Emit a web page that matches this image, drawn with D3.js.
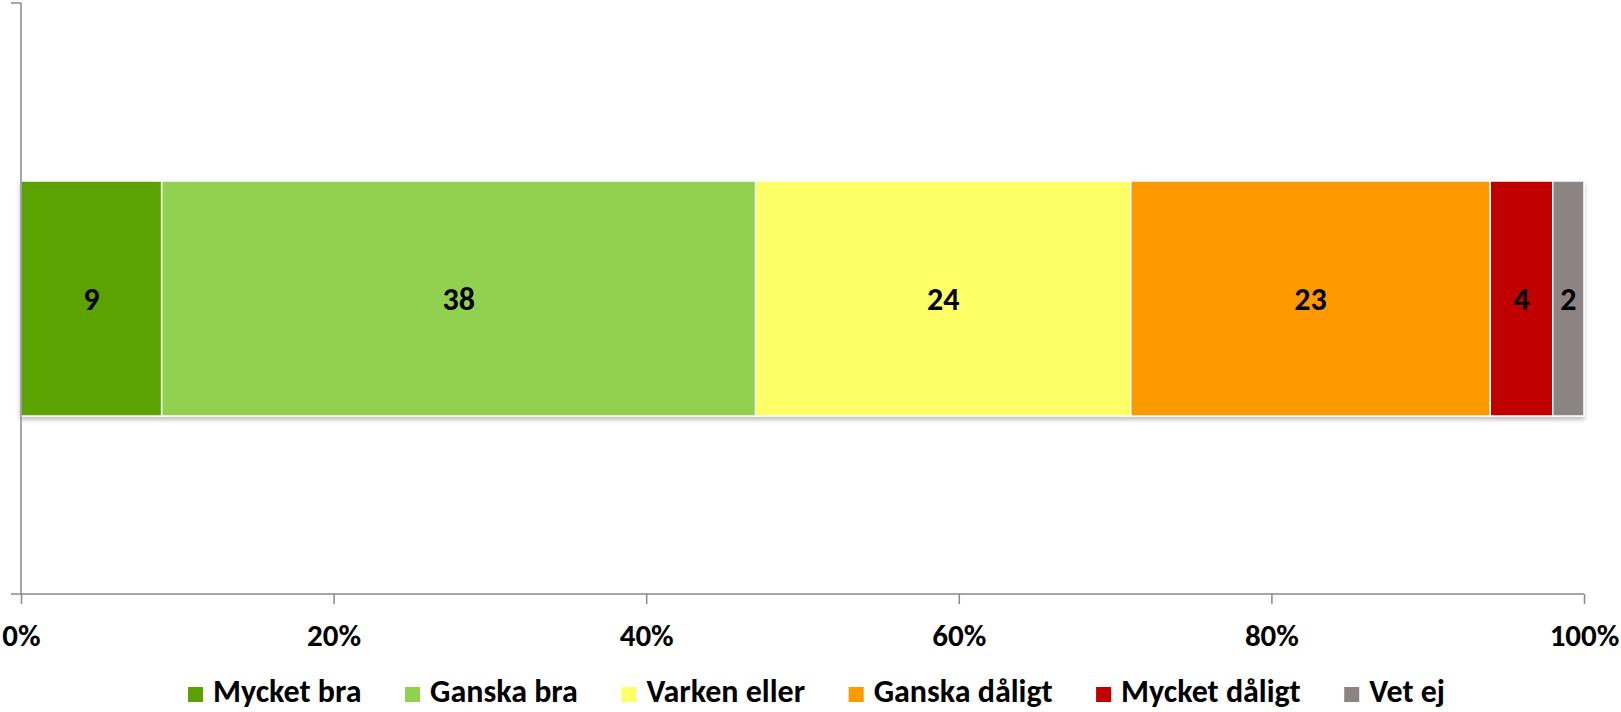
<!DOCTYPE html>
<html>
<head>
<meta charset="utf-8">
<script src="https://cdn.jsdelivr.net/npm/d3@7"></script>
<style>
  body { margin: 0; background: #fff; }
  svg text { font-family: Carlito, Calibri, "Open Sans", sans-serif; font-weight: bold; }
</style>
</head>
<body>
<svg id="chart" width="1621" height="712"></svg>
<script>
// data
const categories = ['Mycket bra', 'Ganska bra', 'Varken eller', 'Ganska dåligt', 'Mycket dåligt', 'Vet ej'];
const values = [9, 38, 24, 23, 4, 2];
const colors = ['#5ba200', '#92d050', '#ffff66', '#ff9900', '#c00000', '#8b8482'];
const tickValues = [0, 20, 40, 60, 80, 100];
const rows = ['row'];

const svg = d3.select('#chart');
const margin = {top: 3, left: 21, right: 37, bottom: 118};
const width = 1621 - margin.left - margin.right;
const height = 712 - margin.top - margin.bottom;
const axisCol = '#898989';

const defs = svg.append('defs');
const shadow = defs.append('filter').attr('id', 'shadow')
  .attr('x', '-5%').attr('y', '-5%').attr('width', '110%').attr('height', '115%');
shadow.append('feDropShadow').attr('dx', 0).attr('dy', 3).attr('stdDeviation', 2)
  .attr('flood-color', '#000').attr('flood-opacity', 0.25);

const g = svg.append('g').attr('transform', 'translate(' + margin.left + ',' + margin.top + ')');

const x = d3.scaleLinear().domain([0, 100]).range([0, width]);
const y = d3.scaleBand().domain(rows).range([0, height]).padding(0.431);

// stacked segments
let acc = 0;
const segs = values.map((v, i) => {
  const s = {name: categories[i], value: v, x0: acc, x1: acc + v, color: colors[i]};
  acc += v;
  return s;
});

const bar = g.append('g').attr('filter', 'url(#shadow)');
bar.selectAll('rect')
  .data(segs)
  .enter().append('rect')
    .attr('x', d => x(d.x0))
    .attr('y', y('row'))
    .attr('width', d => x(d.x1) - x(d.x0))
    .attr('height', y.bandwidth())
    .attr('fill', d => d.color)
    .attr('stroke', '#fff')
    .attr('stroke-width', 1.5);

g.selectAll('.lbl')
  .data(segs)
  .enter().append('text')
    .attr('class', 'lbl')
    .attr('x', d => (x(d.x0) + x(d.x1)) / 2)
    .attr('y', y('row') + y.bandwidth() / 2 + 11)
    .attr('text-anchor', 'middle')
    .attr('font-size', '32px')
    .attr('fill', '#000')
    .text(d => d.value);

// axes
const xAxis = g.append('g')
  .attr('transform', 'translate(0,' + height + ')')
  .call(d3.axisBottom(x).tickValues(tickValues).tickSize(10).tickSizeOuter(10).tickPadding(20)
    .tickFormat(d => d + '%'));
xAxis.select('.domain').remove();
xAxis.append('line').attr('x1', -10).attr('x2', width).attr('stroke', axisCol).attr('stroke-width', 1.5);
xAxis.selectAll('.tick line').attr('stroke', axisCol).attr('stroke-width', 1.5);
xAxis.selectAll('.tick text').attr('font-size', '31px').attr('fill', '#000')
  .attr('font-family', null);

g.append('line').attr('x1', 0).attr('x2', 0).attr('y1', 0).attr('y2', height)
  .attr('stroke', axisCol).attr('stroke-width', 1.5);
g.append('line').attr('x1', -10).attr('x2', 0).attr('y1', 0).attr('y2', 0)
  .attr('stroke', axisCol).attr('stroke-width', 1.5);

// legend, spread between the reference's left and right edges
const legend = svg.append('g').attr('transform', 'translate(0,702)');
const items = legend.selectAll('g')
  .data(segs)
  .enter().append('g');
items.append('rect')
  .attr('y', -15).attr('width', 15).attr('height', 15)
  .attr('fill', d => d.color);
items.append('text')
  .attr('x', 25)
  .attr('font-size', '32px')
  .attr('fill', '#000')
  .text(d => d.name);

const widths = [];
items.each(function() { widths.push(25 + this.querySelector('text').getComputedTextLength()); });
const legLeft = 188, legRight = 1445;
const gap = (legRight - legLeft - d3.sum(widths)) / (widths.length - 1);
let pos = legLeft;
const offs = widths.map(w => { const p = pos; pos += w + gap; return p; });
items.attr('transform', (d, i) => 'translate(' + offs[i] + ',0)');
</script>
</body>
</html>
